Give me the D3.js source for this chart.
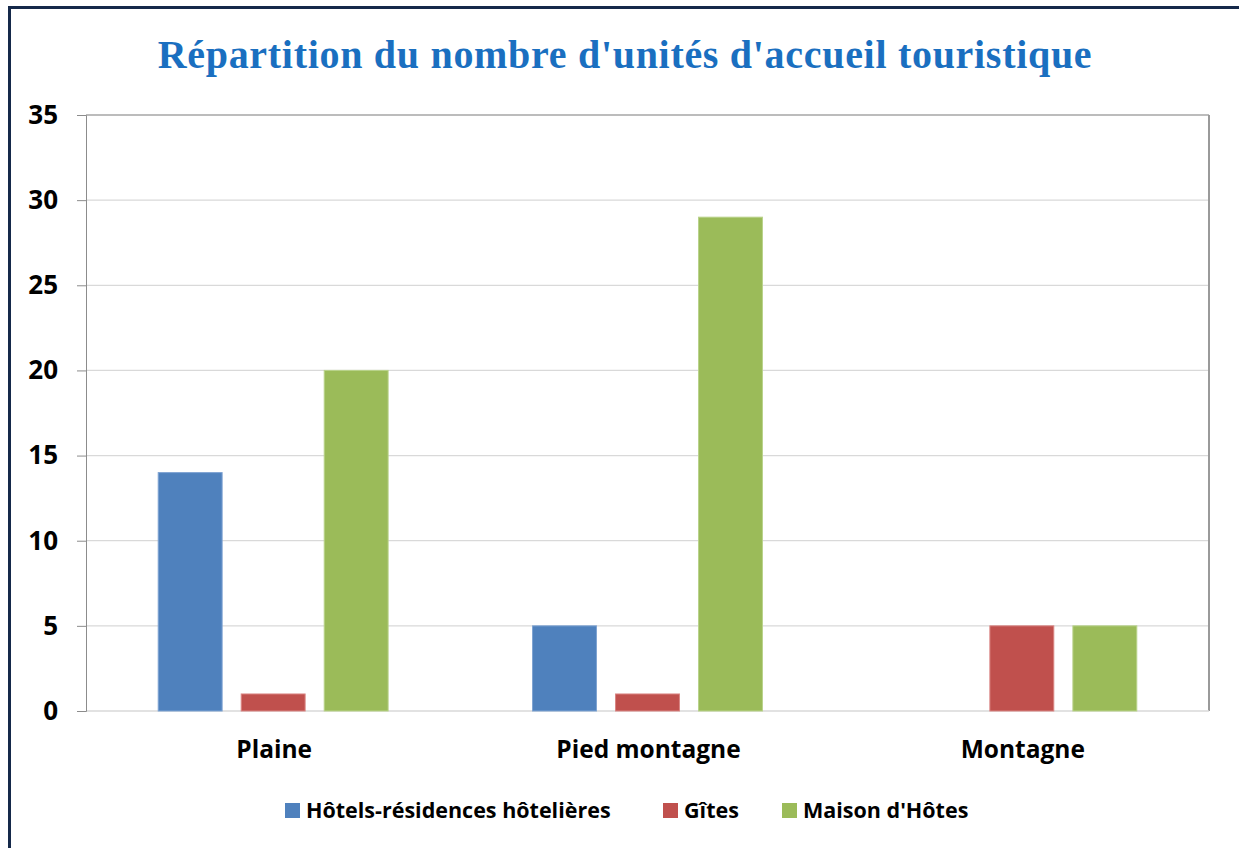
<!DOCTYPE html>
<html>
<head>
<meta charset="utf-8">
<script src="https://cdn.jsdelivr.net/npm/d3@7"></script>
<style>
  body { margin: 0; background: #fff; }
  svg { display: block; }
</style>
</head>
<body>
<div id="chart"></div>
<script>
// data
const categories = ["Plaine", "Pied montagne", "Montagne"];
const seriesNames = ["Hôtels-résidences hôtelières", "Gîtes", "Maison d'Hôtes"];
const hotels = [14, 5, 0];
const gites = [1, 1, 5];
const maisons = [20, 29, 5];
const yTicks = [0, 5, 10, 15, 20, 25, 30, 35];
const colors = ["#4f81bd", "#c0504d", "#9bbb59"];
const strokes = ["#7ea3d2", "#d98583", "#b9d38a"];

const width = 1239, height = 848;
const margin = {top: 115, right: 30, bottom: 137, left: 86};
const plotW = width - margin.left - margin.right,
      plotH = height - margin.top - margin.bottom;

const svg = d3.select("#chart").append("svg")
    .attr("width", width)
    .attr("height", height);

// outer frame
svg.append("rect")
    .attr("x", 9.5).attr("y", 7.5)
    .attr("width", width + 20).attr("height", height + 20)
    .attr("fill", "#fff")
    .attr("stroke", "#15294a")
    .attr("stroke-width", 3);

// title
svg.append("text")
    .attr("x", 625).attr("y", 68)
    .attr("text-anchor", "middle")
    .style("font-family", "'Liberation Serif', 'Times New Roman', serif")
    .style("font-weight", "bold")
    .style("font-size", "40px")
    .style("letter-spacing", "0.7px")
    .style("fill", "#1a6fc0")
    .text("Répartition du nombre d'unités d'accueil touristique");

const g = svg.append("g")
    .attr("transform", `translate(${margin.left},${margin.top})`);

const y = d3.scaleLinear().domain([0, 35]).range([plotH, 0]);
const x0 = d3.scaleBand().domain(categories).range([0, plotW]).padding(0);
const x1 = d3.scaleBand().domain(seriesNames).range([0, x0.bandwidth()])
    .paddingInner(0.23).paddingOuter(0.87);

// gridlines
g.append("g")
    .selectAll("line")
    .data(yTicks.filter(d => d > 0 && d < 35))
    .join("line")
    .attr("x1", 0).attr("x2", plotW)
    .attr("y1", d => y(d)).attr("y2", d => y(d))
    .attr("stroke", "#d9d9d9")
    .attr("stroke-width", 1.3);

// plot frame
g.append("line").attr("x1", 0).attr("x2", plotW).attr("y1", 0).attr("y2", 0)
    .attr("stroke", "#a6a6a6").attr("stroke-width", 1.3);
g.append("line").attr("x1", plotW).attr("x2", plotW).attr("y1", 0).attr("y2", plotH)
    .attr("stroke", "#9a9a9a").attr("stroke-width", 2);
g.append("line").attr("x1", 0).attr("x2", plotW).attr("y1", plotH).attr("y2", plotH)
    .attr("stroke", "#d9d9d9").attr("stroke-width", 1.5);

// y axis
const yAxis = g.append("g")
    .call(d3.axisLeft(y).tickValues(yTicks).tickSize(9).tickPadding(19));
yAxis.select(".domain").attr("stroke", "#8c8c8c");
yAxis.selectAll(".tick line").attr("stroke", "#8c8c8c");
yAxis.selectAll(".tick text")
    .style("font-family", "'Open Sans', sans-serif")
    .style("font-weight", "bold")
    .style("font-size", "26px")
    .style("fill", "#000");

// bars
const rows = categories.map((c, i) => ({
    cat: c,
    vals: [hotels[i], gites[i], maisons[i]]
}));

const groups = g.append("g").selectAll("g")
    .data(rows)
    .join("g")
    .attr("transform", d => `translate(${x0(d.cat)},0)`);

groups.selectAll("rect")
    .data(d => d.vals.map((v, k) => ({name: seriesNames[k], value: v, k: k})).filter(d => d.value > 0))
    .join("rect")
    .attr("x", d => x1(d.name))
    .attr("y", d => y(d.value))
    .attr("width", x1.bandwidth())
    .attr("height", d => plotH - y(d.value))
    .attr("fill", d => colors[d.k])
    .attr("stroke", d => strokes[d.k])
    .attr("stroke-width", 1);

// category labels
g.append("g").selectAll("text")
    .data(categories)
    .join("text")
    .attr("x", d => x0(d) + x0.bandwidth() / 2 + 1)
    .attr("y", plotH + 47)
    .attr("text-anchor", "middle")
    .style("font-family", "'Open Sans', sans-serif")
    .style("font-weight", "bold")
    .style("font-size", "24.5px")
    .text(d => d);

// legend
const legendX = [285, 663, 782];
const legend = svg.append("g").selectAll("g")
    .data(seriesNames)
    .join("g")
    .attr("transform", (d, i) => `translate(${legendX[i]},803)`);
legend.append("rect")
    .attr("width", 15).attr("height", 15)
    .attr("fill", (d, i) => colors[i]);
legend.append("text")
    .attr("x", 21).attr("y", 15)
    .style("font-family", "'Open Sans', sans-serif")
    .style("font-weight", "bold")
    .style("font-size", "21.5px")
    .text(d => d);
</script>
</body>
</html>
